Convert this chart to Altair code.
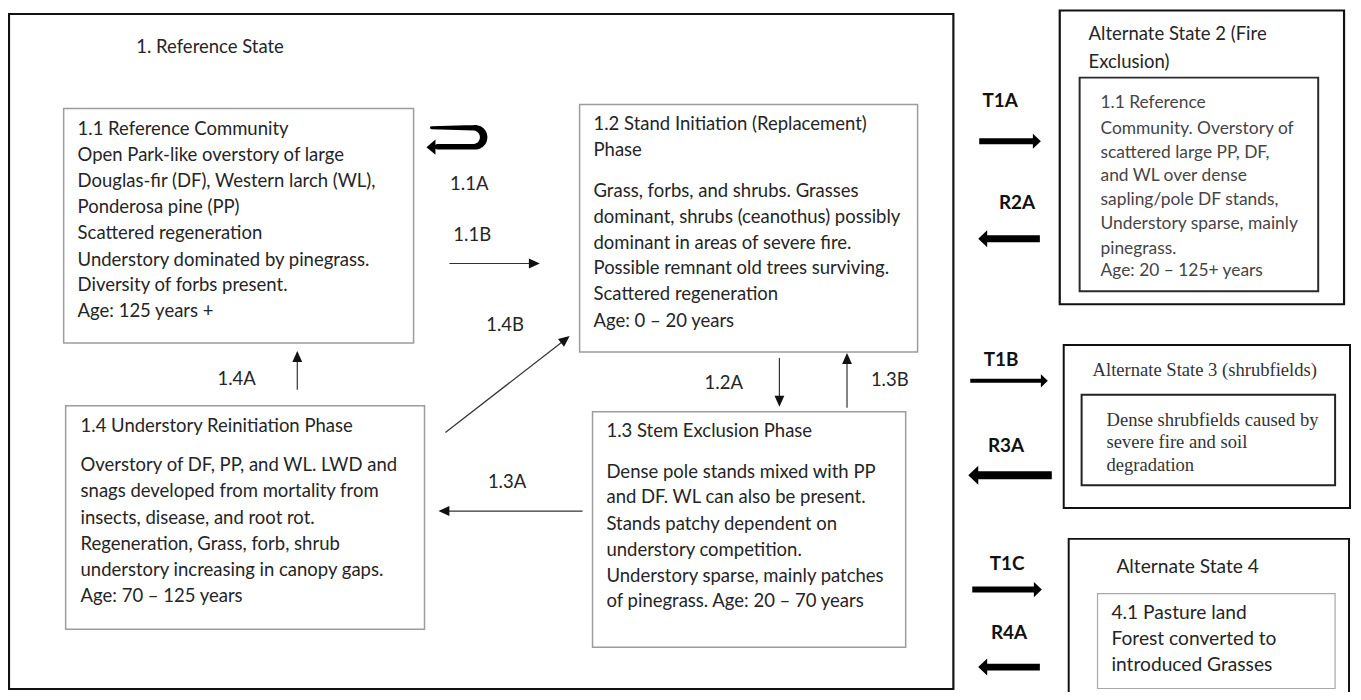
import math
import altair as alt
import pandas as pd

# ---------------- content / layout data ----------------
X_DOMAIN = [8, 1361]
Y_DOMAIN = [8, 692]

# boxes: outer state frames and community boxes
box_id = ["state1", "c11", "c12", "c13", "c14", "s2", "s2in", "s3", "s3in", "s4", "s4in"]
box_x1 = [9, 64, 583, 596, 66, 1066, 1086, 1070, 1088, 1075, 1104]
box_y1 = [12, 107, 103, 412, 406, 8.5, 76, 345, 395, 540, 595]
box_x2 = [959, 416, 923, 911, 427, 1352, 1326, 1358, 1343, 1357, 1343]
box_y2 = [691, 343, 352, 649, 631, 304, 291, 509, 486, 720, 690.5]
box_col = ["#111111", "#9c9c9c", "#9c9c9c", "#9c9c9c", "#9c9c9c",
           "#111111", "#2a2a2a", "#111111", "#222222", "#111111", "#a8a8a8"]
box_sw = [2.2, 1.5, 1.5, 1.5, 1.5, 2.2, 2.0, 2.0, 2.0, 2.0, 1.2]

# body text (left aligned, sans)
c11_lines = ["1.1 Reference Community", "Open Park-like overstory of large",
             "Douglas-fir (DF), Western larch (WL),", "Ponderosa pine (PP)",
             "Scattered regeneration", "Understory dominated by pinegrass.",
             "Diversity of forbs present.", "Age: 125 years +"]
c11_y = [128, 154, 180, 206, 232, 259, 285, 311]

c12_lines = ["1.2 Stand Initiation (Replacement)", "Phase",
             "Grass, forbs, and shrubs. Grasses", "dominant, shrubs (ceanothus) possibly",
             "dominant in areas of severe fire.", "Possible remnant old trees surviving.",
             "Scattered regeneration", "Age: 0 \u2013 20 years"]
c12_y = [123, 149, 190, 216, 242, 268, 294, 321]

c13_lines = ["1.3 Stem Exclusion Phase", "Dense pole stands mixed with PP",
             "and DF. WL can also be present.", "Stands patchy dependent on",
             "understory competition.", "Understory sparse, mainly patches",
             "of pinegrass. Age: 20 \u2013 70 years"]
c13_y = [432, 473, 498, 525, 551, 577, 603]

c14_lines = ["1.4 Understory Reinitiation Phase", "Overstory of DF, PP, and WL. LWD and",
             "snags developed from mortality from", "insects, disease, and root rot.",
             "Regeneration, Grass, forb, shrub", "understory increasing in canopy gaps.",
             "Age: 70 \u2013 125 years"]
c14_y = [426, 466, 492, 519, 545, 571, 597]

misc_lines = ["1. Reference State", "Alternate State 2 (Fire", "Exclusion)"]
misc_x = [137, 1095, 1095]
misc_y = [45, 32, 60]

s4_lines = ["Alternate State 4", "4.1 Pasture land", "Forest converted to",
            "introduced Grasses"]
s4_x = [1123, 1118, 1118, 1118]
s4_y = [568, 615, 641, 667]

s2_lines = ["1.1 Reference", "Community. Overstory of", "scattered large PP, DF,",
            "and WL over dense", "sapling/pole DF stands,", "Understory sparse, mainly",
            "pinegrass.", "Age: 20 \u2013 125+ years"]
s2_y = [102, 128, 152, 175, 199, 223, 248, 271]

s3_lines = ["Alternate State 3 (shrubfields)", "Dense shrubfields caused by",
            "severe fire and soil", "degradation"]
s3_x = [1099, 1113, 1113, 1113]
s3_y = [370, 420, 443, 466]

# pathway labels
lab_text = ["1.1A", "1.1B", "1.4B", "1.4A", "1.2A", "1.3B", "1.3A"]
lab_x = [472, 475, 508, 238, 728, 895, 510]
lab_y = [183, 234, 325, 379, 383, 380, 483]

tlab_text = ["T1A", "R2A", "T1B", "R3A", "T1C", "R4A"]
tlab_x = [1006, 1023, 1007, 1012, 1013, 1015]
tlab_y = [100, 202, 360, 447, 565, 635]

# thin arrows (start -> tip)
ta_x1 = [452, 448, 784, 852, 586, 299]
ta_y1 = [263, 433, 358, 408, 512, 390]
ta_x2 = [543, 573, 784, 852, 441, 299]
ta_y2 = [263, 336, 407, 353, 512, 351]

# thick transition arrows (start -> tip)
ka_x1 = [985, 1046, 976, 1058, 978, 1046]
ka_y1 = [140, 238, 381, 476, 591, 669]
ka_x2 = [1047, 984, 1054, 974, 1048, 984]
ka_y2 = [140, 238, 381, 476, 591, 669]
ka_w = [6, 7, 4, 8, 6, 7]
ka_head = [8, 9, 7, 10, 8, 9]

# self-loop arrow (1.1A)
loop_cx, loop_cy, loop_r = 477, 136, 9.5
loop_left_top, loop_left_bottom = 434, 440
loop_tip = (429, 146)

# ---------------- build tables ----------------
boxes = pd.DataFrame(dict(id=box_id, x1=box_x1, y1=box_y1, x2=box_x2, y2=box_y2,
                          c=box_col, w=box_sw))


def rows(lines, xs, ys):
    if not isinstance(xs, list):
        xs = [xs] * len(lines)
    return pd.DataFrame(dict(text=lines, x=xs, y=ys))


body = pd.concat([
    rows(c11_lines, 78, c11_y),
    rows(c12_lines, 597, c12_y),
    rows(c13_lines, 610, c13_y),
    rows(c14_lines, 81, c14_y),
    rows(misc_lines, misc_x, misc_y),
], ignore_index=True)
s2 = rows(s2_lines, 1107, s2_y)
s3 = rows(s3_lines, s3_x, s3_y)
s4 = rows(s4_lines, s4_x, s4_y)
labs = rows(lab_text, lab_x, lab_y)
tlabs = rows(tlab_text, tlab_x, tlab_y)


def arrow_tables(x1, y1, x2, y2, widths, heads):
    shafts, tips = [], []
    for a, b, c, d, w, h in zip(x1, y1, x2, y2, widths, heads):
        L = math.hypot(c - a, d - b)
        ux, uy = (c - a) / L, (d - b) / L
        shafts.append(dict(x=a, y=b, x2=c - ux * h * 0.8, y2=d - uy * h * 0.8, w=w))
        ang = math.degrees(math.atan2(uy, ux)) % 360
        tips.append(dict(x=c, y=d, ang=ang, size=(2 * h) ** 2))
    return pd.DataFrame(shafts), pd.DataFrame(tips)


thin_shaft, thin_tip = arrow_tables(ta_x1, ta_y1, ta_x2, ta_y2,
                                    [1.2] * len(ta_x1), [11] * len(ta_x1))
thick_shaft, thick_tip = arrow_tables(ka_x1, ka_y1, ka_x2, ka_y2, ka_w, ka_head)

# self loop path
loop_pts = [dict(x=loop_left_top, y=loop_cy - loop_r, w=3, o=0)]
for i in range(0, 13):
    t = -90 + 180 * i / 12
    loop_pts.append(dict(x=loop_cx + loop_r * math.cos(math.radians(t)),
                         y=loop_cy + loop_r * math.sin(math.radians(t)),
                         w=5.5 + 2 * math.cos(math.radians(t)), o=i + 1))
loop_pts.append(dict(x=loop_left_bottom, y=loop_cy + loop_r, w=5.5, o=20))
loop = pd.DataFrame(loop_pts)
loop_tip_df = pd.DataFrame([dict(x=loop_tip[0], y=loop_tip[1], ang=180, size=(2 * 9) ** 2)])

# ---------------- chart ----------------
xs = alt.Scale(domain=X_DOMAIN, nice=False, zero=False)
ys = alt.Scale(domain=Y_DOMAIN, nice=False, zero=False, reverse=True)


def X(f):
    return alt.X(f, type="quantitative", scale=xs, axis=None)


def Y(f):
    return alt.Y(f, type="quantitative", scale=ys, axis=None)


rects = alt.Chart(boxes).mark_rect(fillOpacity=0).encode(
    x=X("x1"), x2="x2", y=Y("y1"), y2="y2",
    stroke=alt.Stroke("c:N", scale=None),
    strokeWidth=alt.StrokeWidth("w:Q", scale=None),
)

SANS = "Lato"
FS = 18.6
body_t = alt.Chart(body).mark_text(align="left", baseline="middle", font=SANS,
                                   fontSize=FS, color="#252525").encode(
    x=X("x"), y=Y("y"), text="text:N")
s4_t = alt.Chart(s4).mark_text(align="left", baseline="middle", font=SANS,
                               fontSize=19.3, color="#252525").encode(
    x=X("x"), y=Y("y"), text="text:N")
s2_t = alt.Chart(s2).mark_text(align="left", baseline="middle", font=SANS,
                               fontSize=17.5, color="#454545").encode(
    x=X("x"), y=Y("y"), text="text:N")
s3_t = alt.Chart(s3).mark_text(align="left", baseline="middle", font="Liberation Serif",
                               fontSize=18.7, color="#333333").encode(
    x=X("x"), y=Y("y"), text="text:N")
lab_t = alt.Chart(labs).mark_text(align="center", baseline="middle", font=SANS,
                                  fontSize=FS, color="#252525").encode(
    x=X("x"), y=Y("y"), text="text:N")
tlab_t = alt.Chart(tlabs).mark_text(align="center", baseline="middle", font=SANS,
                                    fontSize=19, fontWeight="bold", color="#111111").encode(
    x=X("x"), y=Y("y"), text="text:N")

thin_rules = alt.Chart(thin_shaft).mark_rule(color="#333333").encode(
    x=X("x"), y=Y("y"), x2="x2", y2="y2",
    strokeWidth=alt.StrokeWidth("w:Q", scale=None))
thin_heads = alt.Chart(thin_tip).mark_point(
    shape="M0,0L-1,-0.45L-1,0.45Z", filled=True, opacity=1, color="#111111",
    strokeWidth=0).encode(
    x=X("x"), y=Y("y"), angle=alt.Angle("ang:Q", scale=None),
    size=alt.Size("size:Q", scale=None))

thick_rules = alt.Chart(thick_shaft).mark_rule(color="#000000", strokeCap="butt").encode(
    x=X("x"), y=Y("y"), x2="x2", y2="y2",
    strokeWidth=alt.StrokeWidth("w:Q", scale=None))
thick_heads = alt.Chart(thick_tip).mark_point(
    shape="M0,0L-1,-0.95L-1,0.95Z", filled=True, opacity=1, color="#000000",
    strokeWidth=0).encode(
    x=X("x"), y=Y("y"), angle=alt.Angle("ang:Q", scale=None),
    size=alt.Size("size:Q", scale=None))

loop_line = alt.Chart(loop).mark_trail(color="#000000").encode(
    x=X("x"), y=Y("y"), order="o:Q", size=alt.Size("w:Q", scale=None))
loop_head = alt.Chart(loop_tip_df).mark_point(
    shape="M0,0L-1,-0.85L-1,0.85Z", filled=True, opacity=1, color="#000000",
    strokeWidth=0).encode(
    x=X("x"), y=Y("y"), angle=alt.Angle("ang:Q", scale=None),
    size=alt.Size("size:Q", scale=None))

chart = alt.layer(
    rects, thin_rules, thin_heads, thick_rules, thick_heads, loop_line, loop_head,
    body_t, s4_t, s2_t, s3_t, lab_t, tlab_t,
).properties(
    width=1353, height=684, padding=0,
    autosize=alt.AutoSizeParams(type="none"),
    background="white",
).configure_view(stroke=None)

chart.save("out.html", embed_options={"renderer": "svg", "actions": False})
